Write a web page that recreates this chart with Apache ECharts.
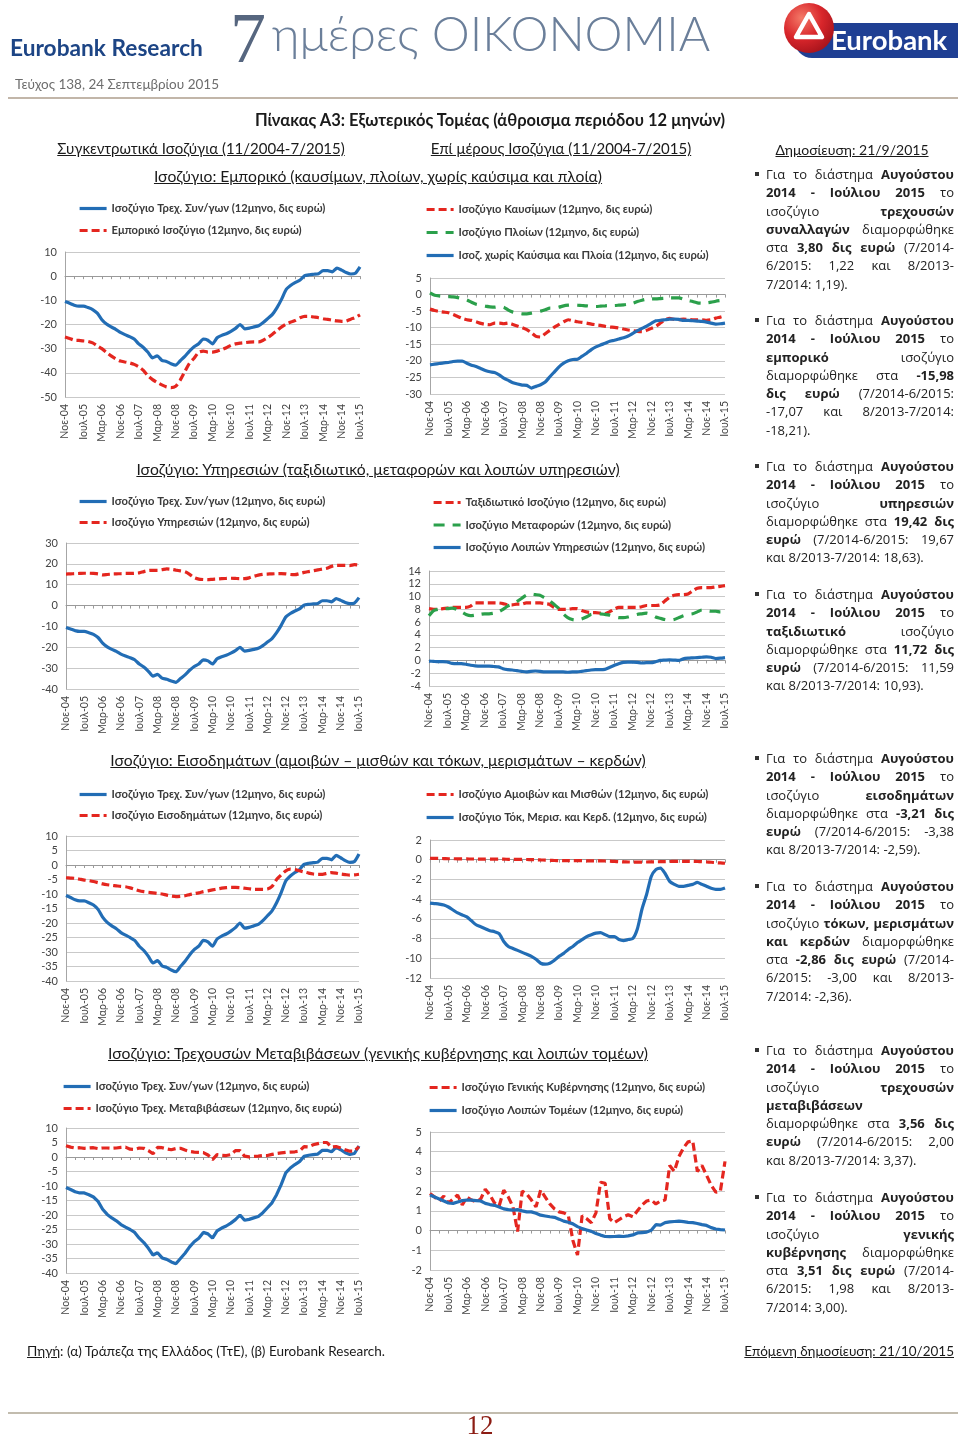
<!DOCTYPE html>
<html lang="el">
<head>
<meta charset="utf-8">
<title>Πίνακας Α3: Εξωτερικός Τομέας</title>
<script src="https://cdn.jsdelivr.net/npm/echarts/dist/echarts.min.js"></script>
<style>
html,body{margin:0;padding:0;background:#fff;}
body{width:960px;height:1438px;position:relative;overflow:hidden;font-family:Lato,'Open Sans',sans-serif;color:#1a1a1a;}
#chart{position:absolute;left:0;top:0;width:960px;height:1438px;}
.t{position:absolute;white-space:nowrap;}
.c{position:absolute;width:600px;text-align:center;white-space:nowrap;}
.u{text-decoration:underline;}
.blk{position:absolute;left:766px;width:188px;font-family:'Open Sans',sans-serif;font-size:13px;line-height:18.3px;color:#222;}
.blk div{text-align:justify;text-align-last:justify;height:18.3px;white-space:normal;}
.blk div.l{text-align:left;text-align-last:left;}
.blk b{font-weight:700;}
.bul{position:absolute;left:-11px;top:7px;width:4px;height:4px;background:#333;}
</style>
</head>
<body>
<div id="chart"></div>

<!-- header -->
<div class="t" style="left:10px;top:35px;font-size:22.7px;font-weight:700;color:#1d4585;line-height:26px;">Eurobank Research</div>
<div class="t" style="left:230px;top:2px;font-family:'Liberation Serif','DejaVu Serif',serif;font-size:72px;line-height:1;color:#56667f;">7</div>
<div class="t" style="left:272px;top:9px;font-size:48px;font-weight:300;line-height:1;color:#6b7f9a;">ημέρες ΟΙΚΟΝΟΜΙΑ</div>
<svg style="position:absolute;left:780px;top:0px;" width="180" height="62" viewBox="0 0 180 62">
  <defs>
    <radialGradient id="rg" cx="0.35" cy="0.3" r="0.75">
      <stop offset="0" stop-color="#f47a68"/>
      <stop offset="0.55" stop-color="#d9262b"/>
      <stop offset="1" stop-color="#a8141c"/>
    </radialGradient>
  </defs>
  <path d="M32 23 H178 V58 H32 A17.5 17.5 0 0 1 32 23 Z" fill="#1f3f93"/>
  <text x="51" y="50" font-family="Lato" font-weight="700" font-size="27.5" fill="#fff">Eurobank</text>
  <circle cx="29" cy="28" r="25" fill="url(#rg)"/>
  <path d="M29 14 L42 37 L16 37 Z" fill="none" stroke="#fff" stroke-width="4.5" stroke-linejoin="round"/>
</svg>
<div class="t" style="left:15px;top:76px;font-size:13.5px;color:#6d6d6d;">Τεύχος 138, 24 Σεπτεμβρίου 2015</div>
<div style="position:absolute;left:8px;top:97px;width:950px;height:2px;background:#c2b6a9;"></div>

<div class="c" style="left:190px;top:110px;font-size:16.5px;font-weight:700;">Πίνακας Α3: Εξωτερικός Τομέας (άθροισμα περιόδου 12 μηνών)</div>
<div class="c u" style="left:-99px;top:139px;font-size:15px;">Συγκεντρωτικά Ισοζύγια (11/2004-7/2015)</div>
<div class="c u" style="left:261px;top:139px;font-size:15px;">Επί μέρους Ισοζύγια (11/2004-7/2015)</div>
<div class="c u" style="left:552px;top:141px;font-size:14px;">Δημοσίευση: 21/9/2015</div>

<div class="c u" style="left:78px;top:167px;font-size:15.7px;">Ισοζύγιο: Εμπορικό (καυσίμων, πλοίων, χωρίς καύσιμα και πλοία)</div>
<div class="c u" style="left:78px;top:460px;font-size:15.7px;">Ισοζύγιο: Υπηρεσιών (ταξιδιωτικό, μεταφορών και λοιπών υπηρεσιών)</div>
<div class="c u" style="left:78px;top:751px;font-size:15.7px;">Ισοζύγιο: Εισοδημάτων (αμοιβών – μισθών και τόκων, μερισμάτων – κερδών)</div>
<div class="c u" style="left:78px;top:1044px;font-size:15.7px;">Ισοζύγιο: Τρεχουσών Μεταβιβάσεων (γενικής κυβέρνησης και λοιπών τομέων)</div>

<!-- right column -->
<div class="blk" style="top:165px"><span class="bul"></span>
<div>Για το διάστημα <b>Αυγούστου</b></div>
<div><b>2014 - Ιούλιου 2015</b> το</div>
<div>ισοζύγιο <b>τρεχουσών</b></div>
<div><b>συναλλαγών</b> διαμορφώθηκε</div>
<div>στα <b>3,80 δις ευρώ</b> (7/2014-</div>
<div>6/2015: 1,22 και 8/2013-</div>
<div class="l">7/2014: 1,19).</div>
</div>
<div class="blk" style="top:311px"><span class="bul"></span>
<div>Για το διάστημα <b>Αυγούστου</b></div>
<div><b>2014 - Ιούλιου 2015</b> το</div>
<div><b>εμπορικό</b> ισοζύγιο</div>
<div>διαμορφώθηκε στα <b>-15,98</b></div>
<div><b>δις ευρώ</b> (7/2014-6/2015:</div>
<div>-17,07 και 8/2013-7/2014:</div>
<div class="l">-18,21).</div>
</div>
<div class="blk" style="top:457px"><span class="bul"></span>
<div>Για το διάστημα <b>Αυγούστου</b></div>
<div><b>2014 - Ιούλιου 2015</b> το</div>
<div>ισοζύγιο <b>υπηρεσιών</b></div>
<div>διαμορφώθηκε στα <b>19,42 δις</b></div>
<div><b>ευρώ</b> (7/2014-6/2015: 19,67</div>
<div class="l">και 8/2013-7/2014: 18,63).</div>
</div>
<div class="blk" style="top:585px"><span class="bul"></span>
<div>Για το διάστημα <b>Αυγούστου</b></div>
<div><b>2014 - Ιούλιου 2015</b> το</div>
<div><b>ταξιδιωτικό</b> ισοζύγιο</div>
<div>διαμορφώθηκε στα <b>11,72 δις</b></div>
<div><b>ευρώ</b> (7/2014-6/2015: 11,59</div>
<div class="l">και 8/2013-7/2014: 10,93).</div>
</div>
<div class="blk" style="top:749px"><span class="bul"></span>
<div>Για το διάστημα <b>Αυγούστου</b></div>
<div><b>2014 - Ιούλιου 2015</b> το</div>
<div>ισοζύγιο <b>εισοδημάτων</b></div>
<div>διαμορφώθηκε στα <b>-3,21 δις</b></div>
<div><b>ευρώ</b> (7/2014-6/2015: -3,38</div>
<div class="l">και 8/2013-7/2014: -2,59).</div>
</div>
<div class="blk" style="top:877px"><span class="bul"></span>
<div>Για το διάστημα <b>Αυγούστου</b></div>
<div><b>2014 - Ιούλιου 2015</b> το</div>
<div>ισοζύγιο <b>τόκων, μερισμάτων</b></div>
<div><b>και κερδών</b> διαμορφώθηκε</div>
<div>στα <b>-2,86 δις ευρώ</b> (7/2014-</div>
<div>6/2015: -3,00 και 8/2013-</div>
<div class="l">7/2014: -2,36).</div>
</div>
<div class="blk" style="top:1041px"><span class="bul"></span>
<div>Για το διάστημα <b>Αυγούστου</b></div>
<div><b>2014 - Ιούλιου 2015</b> το</div>
<div>ισοζύγιο <b>τρεχουσών</b></div>
<div class="l"><b>μεταβιβάσεων</b></div>
<div>διαμορφώθηκε στα <b>3,56 δις</b></div>
<div><b>ευρώ</b> (7/2014-6/2015: 2,00</div>
<div class="l">και 8/2013-7/2014: 3,37).</div>
</div>
<div class="blk" style="top:1188px"><span class="bul"></span>
<div>Για το διάστημα <b>Αυγούστου</b></div>
<div><b>2014 - Ιούλιου 2015</b> το</div>
<div>ισοζύγιο <b>γενικής</b></div>
<div><b>κυβέρνησης</b> διαμορφώθηκε</div>
<div>στα <b>3,51 δις ευρώ</b> (7/2014-</div>
<div>6/2015: 1,98 και 8/2013-</div>
<div class="l">7/2014: 3,00).</div>
</div>

<!-- footer -->
<div class="t" style="left:27px;top:1343px;font-size:13.5px;"><span class="u">Πηγή</span>: (α) Τράπεζα της Ελλάδος (ΤτΕ), (β) Eurobank Research.</div>
<div class="t u" style="right:6px;top:1343px;font-size:13.5px;">Επόμενη δημοσίευση: 21/10/2015</div>
<div style="position:absolute;left:8px;top:1412px;width:950px;height:2px;background:#c2bcae;"></div>
<div class="c" style="left:180px;top:1410px;font-family:'Liberation Serif','DejaVu Serif',serif;font-size:27px;line-height:30px;color:#8c1c13;">12</div>

<script>
// bi-monthly categories, Νοε-04 ... Ιουλ-15
const cats = ['Νοε-04','Ιαν-05','Μαρ-05','Μαϊ-05','Ιουλ-05','Σεπ-05','Νοε-05','Ιαν-06','Μαρ-06','Μαϊ-06','Ιουλ-06','Σεπ-06','Νοε-06','Ιαν-07','Μαρ-07','Μαϊ-07','Ιουλ-07','Σεπ-07','Νοε-07','Ιαν-08','Μαρ-08','Μαϊ-08','Ιουλ-08','Σεπ-08','Νοε-08','Ιαν-09','Μαρ-09','Μαϊ-09','Ιουλ-09','Σεπ-09','Νοε-09','Ιαν-10','Μαρ-10','Μαϊ-10','Ιουλ-10','Σεπ-10','Νοε-10','Ιαν-11','Μαρ-11','Μαϊ-11','Ιουλ-11','Σεπ-11','Νοε-11','Ιαν-12','Μαρ-12','Μαϊ-12','Ιουλ-12','Σεπ-12','Νοε-12','Ιαν-13','Μαρ-13','Μαϊ-13','Ιουλ-13','Σεπ-13','Νοε-13','Ιαν-14','Μαρ-14','Μαϊ-14','Ιουλ-14','Σεπ-14','Νοε-14','Ιαν-15','Μαρ-15','Μαϊ-15','Ιουλ-15'];

const currentAccount = [-10.5,-11.2,-12.0,-12.4,-12.4,-13.0,-13.8,-15.3,-18.0,-19.8,-21.0,-22.0,-23.3,-24.2,-25.0,-26.0,-28.0,-29.5,-31.5,-33.8,-33.0,-34.8,-35.3,-36.2,-36.8,-35.0,-33.2,-31.0,-29.2,-28.0,-26.0,-26.5,-28.0,-25.5,-24.5,-23.8,-22.8,-21.6,-20.0,-21.8,-21.5,-21.0,-20.5,-19.2,-17.5,-15.8,-13.0,-9.5,-5.5,-3.8,-2.6,-1.6,0.2,0.6,0.8,1.0,2.3,2.3,1.8,3.3,2.5,1.5,0.9,1.2,3.8];
const tradeBal = [-25.2,-25.8,-26.5,-26.6,-26.8,-27.0,-27.6,-28.8,-30.0,-31.5,-33.0,-34.2,-35.1,-35.5,-35.9,-36.5,-37.5,-39.0,-41.2,-42.8,-44.0,-45.0,-45.8,-46.1,-45.6,-43.0,-39.5,-36.0,-34.0,-31.5,-31.0,-31.4,-31.4,-31.0,-30.4,-29.6,-28.6,-28.0,-27.7,-27.5,-27.3,-27.2,-27.2,-26.5,-25.4,-24.0,-22.5,-21.0,-19.8,-19.0,-18.3,-17.2,-16.6,-16.6,-16.9,-17.2,-17.6,-17.9,-18.2,-18.5,-18.7,-18.6,-17.8,-17.1,-16.0];
const fuelBal = [-4.4,-4.8,-5.1,-5.3,-5.5,-6.0,-6.6,-7.2,-7.6,-7.8,-8.2,-8.7,-9.0,-9.1,-8.6,-8.6,-8.8,-8.6,-9.0,-9.5,-10.0,-10.6,-11.5,-12.6,-12.8,-11.8,-10.8,-9.8,-9.0,-8.2,-7.6,-7.9,-8.2,-8.4,-8.6,-8.9,-9.1,-9.3,-9.6,-9.8,-9.9,-10.1,-10.4,-10.7,-10.9,-11.1,-11.2,-10.8,-10.2,-9.6,-8.6,-7.6,-7.2,-7.5,-7.6,-7.4,-7.5,-7.6,-7.6,-7.6,-7.8,-7.6,-7.1,-6.8,-6.4];
const shipsBal = [0.5,-0.2,-0.4,-0.5,-0.6,-0.7,-0.9,-1.2,-1.6,-2.3,-2.9,-3.2,-3.5,-3.7,-3.8,-3.6,-3.8,-4.7,-5.3,-5.6,-5.8,-5.8,-5.6,-5.3,-5.0,-4.6,-4.1,-4.1,-3.8,-3.4,-3.2,-3.1,-3.2,-3.3,-3.4,-3.6,-3.6,-3.5,-3.4,-3.3,-3.3,-3.2,-3.1,-2.9,-2.6,-2.1,-1.7,-1.4,-1.3,-1.3,-1.2,-1.1,-1.0,-1.0,-1.0,-1.4,-1.8,-2.1,-2.5,-2.6,-2.5,-2.3,-2.0,-1.8,-1.6];
const exFuelShips = [-21.2,-21.0,-20.8,-20.6,-20.5,-20.2,-20.1,-20.1,-20.7,-21.3,-21.7,-22.3,-22.9,-23.3,-23.5,-24.2,-25.2,-25.9,-26.6,-27.0,-27.3,-27.4,-28.2,-27.7,-27.2,-26.4,-24.8,-23.3,-21.8,-20.7,-20.0,-19.6,-19.5,-18.6,-17.7,-16.6,-15.8,-15.2,-14.7,-14.1,-13.8,-13.4,-13.0,-12.5,-11.7,-10.9,-10.2,-9.5,-8.7,-7.9,-7.8,-7.6,-7.4,-7.4,-7.5,-7.8,-7.8,-7.9,-8.0,-8.1,-8.3,-8.6,-8.9,-8.8,-8.6];
const servicesBal = [15.1,15.2,15.3,15.4,15.5,15.5,15.4,15.2,14.7,14.9,15.1,15.2,15.3,15.4,15.4,15.5,15.7,16.3,16.8,16.9,16.9,17.2,17.6,17.4,17.0,16.6,16.2,15.0,13.4,12.7,12.5,12.4,12.6,12.7,12.9,13.0,13.1,13.0,12.9,12.9,13.3,14.0,14.6,15.0,15.1,15.2,15.3,15.3,15.2,14.9,14.8,15.3,15.9,16.3,16.7,17.1,17.5,17.9,18.8,19.3,19.3,19.3,19.2,19.6,19.4];
const travelBal = [8.1,8.0,8.0,8.1,8.2,8.3,8.3,8.3,8.3,8.5,9.0,9.0,9.0,9.0,9.0,9.0,8.9,8.7,8.7,8.8,8.8,9.0,9.0,9.0,9.0,8.9,8.8,8.3,8.0,8.0,8.0,8.1,8.1,7.8,7.6,7.5,7.5,7.4,7.3,7.6,8.0,8.3,8.3,8.3,8.3,8.3,8.4,8.6,8.6,8.6,8.7,9.3,9.9,10.2,10.3,10.3,10.4,10.9,11.3,11.4,11.4,11.4,11.5,11.6,11.7];
const transportBal = [7.0,7.8,8.0,8.1,8.1,8.2,8.0,7.6,7.2,7.0,7.1,7.2,7.3,7.3,7.4,7.6,8.0,8.5,8.8,9.2,9.7,10.2,10.4,10.3,10.2,9.8,9.4,8.8,8.2,7.3,6.7,6.4,6.3,6.5,6.8,7.2,7.3,7.3,7.2,7.1,6.9,6.7,6.7,6.8,7.0,7.2,7.3,7.4,7.2,6.8,6.6,6.4,6.3,6.4,6.7,7.0,7.2,7.3,7.6,7.9,7.8,7.7,7.7,7.6,7.6];
const otherServBal = [-0.1,-0.15,-0.2,-0.2,-0.25,-0.45,-0.5,-0.5,-0.6,-0.75,-0.85,-0.9,-0.9,-0.9,-0.95,-1.0,-1.3,-1.45,-1.5,-1.6,-1.7,-1.8,-1.7,-1.65,-1.7,-1.8,-1.8,-1.8,-1.8,-1.8,-1.85,-1.8,-1.8,-1.7,-1.6,-1.5,-1.45,-1.45,-1.4,-1.1,-0.8,-0.5,-0.3,-0.25,-0.25,-0.3,-0.4,-0.35,-0.35,-0.2,0.0,0.05,0.1,0.05,0.0,0.25,0.35,0.4,0.45,0.5,0.55,0.5,0.3,0.35,0.45];
const incomeBal = [-4.4,-4.5,-4.6,-4.9,-5.2,-5.4,-5.7,-6.1,-6.5,-6.8,-7.0,-7.2,-7.4,-7.5,-7.9,-8.4,-8.9,-9.2,-9.4,-9.6,-9.8,-10.0,-10.4,-10.7,-10.9,-10.8,-10.6,-10.2,-9.9,-9.6,-9.2,-8.9,-8.6,-8.3,-8.0,-7.8,-7.7,-7.7,-7.8,-8.0,-8.2,-8.4,-8.4,-8.4,-8.3,-7.4,-5.0,-3.4,-2.0,-1.4,-1.6,-2.0,-2.4,-2.8,-3.1,-3.2,-3.2,-2.9,-2.6,-2.8,-3.1,-3.3,-3.5,-3.4,-3.2];
const compensationBal = [0.15,0.14,0.13,0.12,0.1,0.1,0.09,0.08,0.08,0.07,0.07,0.06,0.06,0.06,0.05,0.05,0.05,0.04,0.04,0.04,0.03,0.02,0.01,0.0,-0.02,-0.04,-0.06,-0.08,-0.09,-0.1,-0.1,-0.1,-0.1,-0.1,-0.11,-0.11,-0.12,-0.12,-0.13,-0.15,-0.17,-0.2,-0.22,-0.23,-0.24,-0.24,-0.24,-0.23,-0.22,-0.21,-0.2,-0.19,-0.18,-0.17,-0.16,-0.16,-0.16,-0.17,-0.18,-0.2,-0.23,-0.26,-0.3,-0.33,-0.36];
const interestBal = [-4.4,-4.45,-4.5,-4.6,-4.8,-5.1,-5.4,-5.6,-5.8,-6.2,-6.6,-6.8,-7.0,-7.2,-7.3,-7.5,-8.3,-8.8,-9.0,-9.2,-9.4,-9.6,-9.8,-10.1,-10.5,-10.6,-10.5,-10.2,-9.8,-9.5,-9.1,-8.8,-8.4,-8.1,-7.8,-7.6,-7.45,-7.4,-7.6,-7.8,-7.8,-8.1,-8.2,-8.1,-8.0,-7.0,-5.0,-3.5,-1.7,-1.0,-0.85,-1.4,-2.2,-2.5,-2.7,-2.7,-2.6,-2.5,-2.3,-2.5,-2.7,-2.9,-3.0,-3.0,-2.86];
const transfersBal = [3.9,3.4,3.1,3.2,3.0,3.1,3.2,2.9,3.1,3.1,3.0,3.1,3.3,3.4,2.7,2.6,3.1,3.0,2.2,1.1,3.3,3.2,2.8,2.5,2.9,3.0,2.4,1.9,1.7,1.6,1.5,0.7,-0.9,0.8,0.6,0.5,0.8,2.2,2.2,0.3,0.05,0.2,0.3,0.5,0.5,0.9,1.2,1.4,1.6,1.7,1.8,2.0,3.6,3.5,4.2,4.6,5.0,5.0,3.4,3.6,3.1,2.5,2.0,2.0,3.56];
const genGovBal = [1.88,1.7,1.5,1.75,1.4,1.6,1.8,1.3,1.7,1.55,1.45,1.6,2.1,1.8,1.4,1.25,2.05,1.7,1.2,-0.05,2.0,1.85,1.55,1.2,2.05,1.7,1.35,1.1,0.95,0.9,0.78,-0.5,-1.24,0.75,0.6,0.4,0.9,2.45,2.4,0.6,0.4,0.55,0.7,0.8,0.7,1.0,1.3,1.5,1.55,1.35,1.5,1.55,3.3,3.0,3.75,4.2,4.5,4.55,3.0,3.3,2.8,2.3,1.95,2.0,3.51];
const otherSectorsBal = [1.8,1.7,1.6,1.5,1.4,1.38,1.45,1.52,1.55,1.54,1.52,1.5,1.38,1.32,1.28,1.2,1.1,1.06,1.04,1.06,1.0,0.95,0.95,0.88,0.78,0.74,0.7,0.67,0.58,0.48,0.42,0.34,0.2,0.1,0.03,-0.04,-0.15,-0.23,-0.3,-0.31,-0.3,-0.28,-0.3,-0.27,-0.22,-0.12,-0.1,-0.08,0.02,0.3,0.28,0.4,0.44,0.46,0.48,0.45,0.42,0.4,0.36,0.3,0.26,0.15,0.08,0.05,0.03];

const nCA = 'Ισοζύγιο Τρεχ. Συν/γων (12μηνο, δις ευρώ)';
const nTrade = 'Εμπορικό Ισοζύγιο (12μηνο, δις ευρώ)';
const nFuel = 'Ισοζύγιο Καυσίμων (12μηνο, δις ευρώ)';
const nShips = 'Ισοζύγιο Πλοίων (12μηνο, δις ευρώ)';
const nExFS = 'Ισοζ. χωρίς Καύσιμα και Πλοία (12μηνο, δις ευρώ)';
const nServ = 'Ισοζύγιο Υπηρεσιών (12μηνο, δις ευρώ)';
const nTravel = 'Ταξιδιωτικό Ισοζύγιο (12μηνο, δις ευρώ)';
const nTransp = 'Ισοζύγιο Μεταφορών (12μηνο, δις ευρώ)';
const nOther = 'Ισοζύγιο Λοιπών Υπηρεσιών (12μηνο, δις ευρώ)';
const nInc = 'Ισοζύγιο Εισοδημάτων (12μηνο, δις ευρώ)';
const nComp = 'Ισοζύγιο Αμοιβών και Μισθών (12μηνο, δις ευρώ)';
const nInt = 'Ισοζύγιο Τόκ, Μερισ. και Κερδ. (12μηνο, δις ευρώ)';
const nTransf = 'Ισοζύγιο Τρεχ. Μεταβιβάσεων (12μηνο, δις ευρώ)';
const nGov = 'Ισοζύγιο Γενικής Κυβέρνησης (12μηνο, δις ευρώ)';
const nOthSec = 'Ισοζύγιο Λοιπών Τομέων (12μηνο, δις ευρώ)';

const STY = {
  blue:  {color:'#226db5', width:3.2, type:'solid'},
  red:   {color:'#e4261f', width:3.2, type:[8,4]},
  green: {color:'#2ba04b', width:3.2, type:[11,8]}
};

// layout: grid [left, top, width, height], y [min,max,interval], legend [left, top, gap]
const panels = [
  {g:[65,252,295,145], y:[-50,10,10], lg:[78,202,9],  smooth:0.2, s:[[nCA,currentAccount,'blue'],[nTrade,tradeBal,'red']]},
  {g:[430,278,295,116], y:[-30,5,5],  lg:[425,203,10], smooth:0.2, s:[[nFuel,fuelBal,'red'],[nShips,shipsBal,'green'],[nExFS,exFuelShips,'blue']]},
  {g:[66,543,293,146], y:[-40,30,10], lg:[78,495,8],  smooth:0.2, s:[[nCA,currentAccount,'blue'],[nServ,servicesBal,'red']]},
  {g:[429,571,296,115], y:[-4,14,2],  lg:[432,496,9.5], smooth:0.2, s:[[nTravel,travelBal,'red'],[nTransp,transportBal,'green'],[nOther,otherServBal,'blue']]},
  {g:[66,836,293,145], y:[-40,10,5],  lg:[78,788,8],  smooth:0.2, s:[[nCA,currentAccount,'blue'],[nInc,incomeBal,'red']]},
  {g:[430,840,295,138], y:[-12,2,2],  lg:[425,788,10], smooth:0.2, s:[[nComp,compensationBal,'red'],[nInt,interestBal,'blue']]},
  {g:[66,1128,293,145], y:[-40,10,5], lg:[62,1080,9], smooth:false, s:[[nCA,currentAccount,'blue'],[nTransf,transfersBal,'red']]},
  {g:[430,1132,295,138], y:[-2,5,1],  lg:[428,1081,10], smooth:false, s:[[nGov,genGovBal,'red'],[nOthSec,otherSectorsBal,'blue']]}
];

const option = {animation:false, grid:[], xAxis:[], yAxis:[], legend:[], series:[]};
panels.forEach((p, k) => {
  option.grid.push({left:p.g[0], top:p.g[1], width:p.g[2], height:p.g[3], containLabel:false});
  option.xAxis.push({type:'category', gridIndex:k, data:cats, boundaryGap:false, position:'bottom',
    axisLine:{show:false, onZero:false}, axisTick:{show:false}, splitLine:{show:false},
    axisLabel:{interval:3, rotate:90, margin:7, fontSize:10.5, color:'#444', fontFamily:'Lato'}});
  option.xAxis.push({type:'category', gridIndex:k, data:cats, boundaryGap:false, position:'bottom',
    axisLine:{show:true, onZero:true, lineStyle:{color:'#9a9a9a', width:1}},
    axisTick:{show:true, interval:1, length:3, lineStyle:{color:'#9a9a9a'}},
    axisLabel:{show:false}, splitLine:{show:false}});
  option.yAxis.push({type:'value', gridIndex:k, min:p.y[0], max:p.y[1], interval:p.y[2],
    axisLine:{show:true, lineStyle:{color:'#a6a6a6'}}, axisTick:{show:false},
    axisLabel:{fontSize:11, color:'#444', margin:8, fontFamily:'Lato'},
    splitLine:{lineStyle:{color:'#c9c9c9', width:1}}});
  option.legend.push({orient:'vertical', left:p.lg[0], top:p.lg[1], itemGap:p.lg[2], padding:0,
    itemWidth:27, itemHeight:13, data:p.s.map(s => s[0]),
    itemStyle:{opacity:0}, lineStyle:{width:3.2},
    textStyle:{fontFamily:'Lato', fontWeight:'bold', fontSize:11.2, color:'#3a3a3a', lineHeight:13},
    selectedMode:false});
  p.s.forEach(s => {
    const st = STY[s[2]];
    option.series.push({type:'line', name:s[0], xAxisIndex:2*k, yAxisIndex:k, data:s[1],
      symbol:'none', smooth:p.smooth, itemStyle:{color:st.color},
      lineStyle:{color:st.color, width:st.width, type:st.type}});
  });
});

const chart = echarts.init(document.getElementById('chart'), null, {renderer:'canvas'});
chart.setOption(option);
</script>
</body>
</html>
